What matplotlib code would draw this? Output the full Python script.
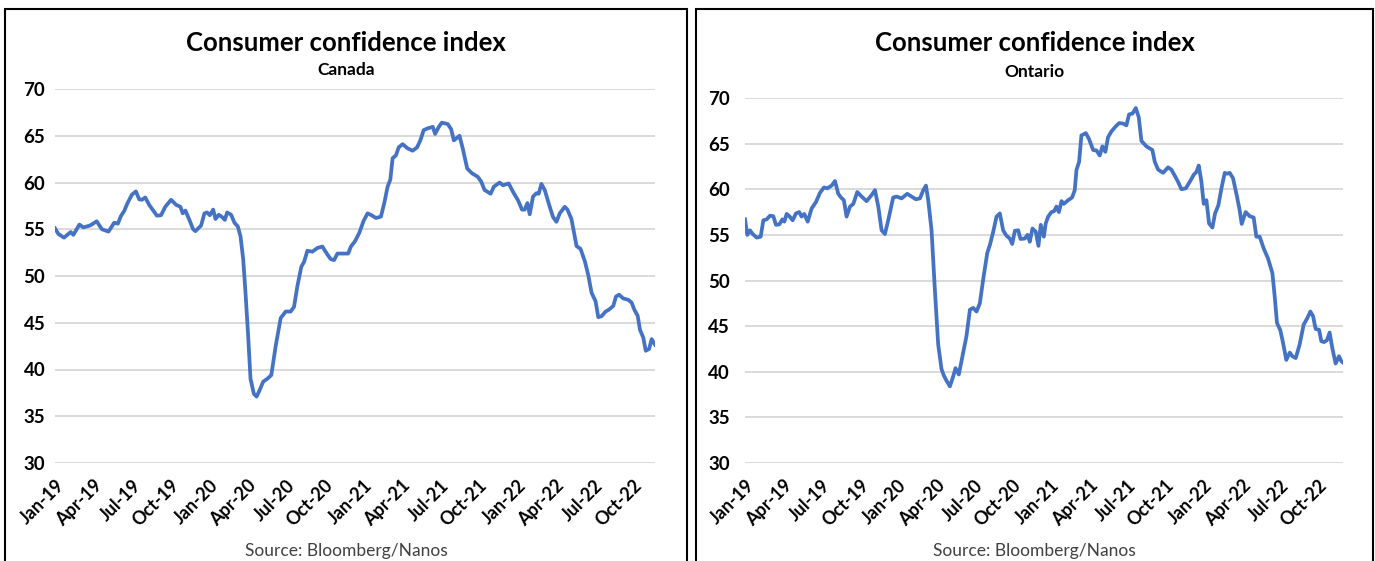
import matplotlib
matplotlib.use('Agg')
import matplotlib.pyplot as plt
from matplotlib.patches import Rectangle

plt.rcParams['font.family'] = ['Lato', 'DejaVu Sans']

# Weekly index readings, x = months since Jan 2019
canada_month = [
    0, 0.26, 0.70, 1.22, 1.43, 1.90, 2.21, 2.73, 3.25, 3.65,
    4.17, 4.61, 4.90, 5.13, 5.39, 5.65, 5.99, 6.30, 6.56, 6.77,
    7.03, 7.34, 7.94, 8.26, 8.59, 9.04, 9.45, 9.77, 9.95, 10.16,
    10.47, 10.76, 10.94, 11.38, 11.64, 11.85, 12.06, 12.32, 12.5, 12.76,
    13.02, 13.23, 13.41, 13.72, 13.98, 14.24, 14.45, 14.66, 14.84, 15.03,
    15.23, 15.49, 15.70, 15.88, 16.22, 16.53, 16.85, 17.19, 17.58, 17.97,
    18.36, 18.62, 18.88, 19.19, 19.4, 19.66, 20.05, 20.44, 20.83, 21.17,
    21.48, 21.74, 22.0, 22.39, 22.84, 23.05, 23.36, 23.7, 24.04, 24.35,
    24.66, 25.0, 25.39, 25.65, 25.91, 26.12, 26.3, 26.56, 26.77, 27.08,
    27.47, 27.86, 28.2, 28.46, 28.72, 29.04, 29.43, 29.61, 29.9, 30.13,
    30.6, 30.86, 31.07, 31.51, 31.77, 32.11, 32.47, 32.94, 33.2, 33.46,
    33.93, 34.19, 34.63, 34.9, 35.34, 35.68, 36.07, 36.38, 36.59, 36.8,
    36.98, 37.24, 37.5, 37.68, 37.89, 38.15, 38.54, 38.8, 39.06, 39.32,
    39.71, 39.92, 40.23, 40.63, 40.94, 41.28, 41.54, 41.8, 42.11, 42.32,
    42.58, 42.89, 43.15, 43.49, 43.7, 43.93, 44.27, 44.66, 44.92, 45.13,
    45.39, 45.57, 45.83, 46.02, 46.28, 46.48, 46.74,
]
canada_value = [
    55.1, 54.5, 54.1, 54.7, 54.4, 55.5, 55.2, 55.4, 55.85, 55.0,
    54.75, 55.7, 55.6, 56.4, 56.95, 57.8, 58.7, 59.05, 58.2, 58.15,
    58.4, 57.6, 56.45, 56.5, 57.4, 58.15, 57.6, 57.4, 56.7, 57.0,
    56.0, 55.0, 54.8, 55.4, 56.7, 56.8, 56.5, 57.1, 56.1, 56.55,
    56.3, 56.0, 56.8, 56.55, 55.7, 55.3, 54.25, 51.8, 48.2, 44.0,
    39.0, 37.4, 37.1, 37.6, 38.7, 39.0, 39.4, 42.5, 45.5, 46.2,
    46.2, 46.7, 48.9, 51.0, 51.5, 52.7, 52.6, 53.0, 53.15, 52.4,
    51.8, 51.7, 52.4, 52.4, 52.4, 53.15, 53.7, 54.6, 55.9, 56.7,
    56.5, 56.2, 56.35, 57.8, 59.55, 60.3, 62.6, 62.9, 63.75, 64.1,
    63.65, 63.4, 63.75, 64.5, 65.6, 65.8, 65.95, 65.2, 65.95, 66.4,
    66.25, 65.7, 64.5, 65.0, 63.6, 61.5, 61.0, 60.6, 60.1, 59.2,
    58.8, 59.55, 60.0, 59.7, 59.9, 59.0, 58.1, 57.1, 57.1, 57.8,
    56.6, 58.5, 58.85, 58.8, 59.85, 59.2, 57.4, 56.3, 55.8, 56.7,
    57.4, 57.1, 56.1, 53.2, 52.9, 51.55, 50.1, 48.2, 47.3, 45.6,
    45.7, 46.2, 46.4, 46.8, 47.8, 48.0, 47.6, 47.45, 47.15, 46.4,
    45.75, 44.25, 43.4, 42.0, 42.2, 43.25, 42.65,
]

ontario_month = [
    0, 0.18, 0.39, 0.6, 0.92, 1.23, 1.44, 1.7, 1.96, 2.22,
    2.43, 2.69, 2.93, 3.09, 3.27, 3.48, 3.74, 4.0, 4.26, 4.44,
    4.65, 4.92, 5.23, 5.57, 5.88, 6.2, 6.46, 6.8, 7.06, 7.32,
    7.53, 7.76, 7.97, 8.24, 8.5, 8.81, 9.15, 9.54, 9.93, 10.2,
    10.46, 10.72, 10.98, 11.24, 11.63, 11.9, 12.29, 12.73, 13.07, 13.41,
    13.73, 13.99, 14.2, 14.38, 14.64, 14.9, 15.16, 15.42, 15.6, 15.82,
    16.08, 16.34, 16.52, 16.78, 17.12, 17.38, 17.65, 17.91, 18.17, 18.43,
    18.69, 19.01, 19.22, 19.48, 19.74, 20.0, 20.26, 20.52, 20.78, 20.97,
    21.18, 21.44, 21.62, 21.96, 22.17, 22.35, 22.56, 22.82, 23.03, 23.21,
    23.45, 23.6, 23.79, 24.05, 24.26, 24.44, 24.63, 24.84, 25.02, 25.36,
    25.67, 25.88, 26.01, 26.22, 26.4, 26.75, 27.0, 27.32, 27.58, 27.84,
    28.05, 28.28, 28.49, 28.76, 29.1, 29.36, 29.67, 29.93, 30.14, 30.41,
    30.67, 30.9, 31.11, 31.5, 31.97, 32.16, 32.42, 32.81, 33.2, 33.46,
    33.8, 33.99, 34.25, 34.59, 34.9, 35.22, 35.43, 35.61, 35.82, 36.0,
    36.21, 36.42, 36.68, 36.89, 37.15, 37.39, 37.65, 37.83, 38.04, 38.3,
    38.61, 38.82, 38.98, 39.29, 39.61, 39.92, 40.13, 40.39, 40.71, 41.05,
    41.39, 41.57, 41.75, 42.01, 42.22, 42.48, 42.75, 42.96, 43.22, 43.53,
    43.84, 44.1, 44.37, 44.58, 44.78, 45.05, 45.23, 45.44, 45.67, 45.88,
    46.09, 46.35, 46.61, 46.8, 46.93,
]
ontario_value = [
    56.7, 55.0, 55.5, 55.1, 54.7, 54.8, 56.6, 56.7, 57.1, 57.05,
    56.1, 56.15, 56.7, 56.45, 57.3, 57.05, 56.6, 57.35, 57.5, 57.0,
    57.3, 56.45, 57.9, 58.6, 59.6, 60.2, 60.1, 60.4, 60.9, 59.5,
    59.1, 58.8, 57.0, 58.1, 58.4, 59.7, 59.2, 58.7, 59.35, 59.9,
    58.1, 55.5, 55.1, 56.6, 59.1, 59.2, 59.0, 59.5, 59.2, 58.9,
    59.0, 59.9, 60.4, 58.8, 55.5, 49.0, 43.0, 40.3, 39.6, 39.0,
    38.4, 39.5, 40.4, 39.7, 42.1, 43.9, 46.8, 47.0, 46.6, 47.5,
    50.1, 53.0, 53.9, 55.35, 57.0, 57.35, 55.5, 54.9, 54.6, 54.0,
    55.45, 55.5, 54.55, 54.6, 55.0, 54.25, 55.7, 55.35, 53.8, 56.1,
    54.8, 56.25, 57.0, 57.5, 57.6, 58.1, 57.5, 58.7, 58.4, 58.8,
    59.1, 59.9, 62.1, 63.0, 65.9, 66.15, 65.5, 64.3, 64.25, 63.7,
    64.7, 64.1, 65.7, 66.35, 66.9, 67.25, 67.2, 67.0, 68.2, 68.3,
    68.9, 67.9, 65.3, 64.7, 64.3, 63.0, 62.15, 61.8, 62.4, 62.15,
    61.3, 60.8, 60.0, 60.1, 60.8, 61.6, 61.9, 62.6, 60.8, 58.4,
    58.8, 56.25, 55.8, 57.35, 58.25, 60.1, 61.8, 61.7, 61.8, 61.2,
    59.2, 57.7, 56.2, 57.5, 57.05, 56.9, 54.8, 54.8, 53.5, 52.4,
    50.8, 48.25, 45.35, 44.55, 43.2, 41.3, 42.1, 41.7, 41.5, 43.0,
    45.15, 45.8, 46.6, 46.1, 44.7, 44.6, 43.35, 43.25, 43.45, 44.3,
    42.6, 40.9, 41.7, 41.15, 41.0,
]

tick_months = list(range(0, 46, 3))
tick_labels = ['Jan-19', 'Apr-19', 'Jul-19', 'Oct-19',
               'Jan-20', 'Apr-20', 'Jul-20', 'Oct-20',
               'Jan-21', 'Apr-21', 'Jul-21', 'Oct-21',
               'Jan-22', 'Apr-22', 'Jul-22', 'Oct-22']
y_ticks = [30, 35, 40, 45, 50, 55, 60, 65, 70]

W, H = 1375, 561
fig = plt.figure(figsize=(W / 100, H / 100), dpi=100)
fig.set_facecolor('white')


def panel(box, frame, months, values, region, title_y, sub_y, ypad):
    # box / frame given in pixels: (left, top, right, bottom)
    l, t, r, b = box
    ax = fig.add_axes([l / W, 1 - b / H, (r - l) / W, (b - t) / H])
    ax.plot(months, values, color='#4472C4', lw=2.7, solid_joinstyle='round')
    ax.set_xlim(0, months[-1])
    ax.set_ylim(30, 70)
    ax.set_yticks(y_ticks)
    ax.set_xticks(tick_months)
    ax.set_xticklabels(tick_labels, rotation=45, ha='right',
                       rotation_mode='anchor', fontsize=13, fontweight='bold')
    for lab in ax.get_yticklabels():
        lab.set_fontsize(13.5)
        lab.set_fontweight('bold')
    ax.tick_params(length=0, pad=ypad, axis='y')
    ax.tick_params(length=0, pad=10, axis='x')
    ax.yaxis.grid(True, color='#d9d9d9', lw=1.4)
    ax.set_axisbelow(True)
    for s in ax.spines.values():
        s.set_visible(False)

    fl, ft, fr = frame
    cx = (fl + fr) / 2 / W
    fig.add_artist(Rectangle((fl / W, -0.1), (fr - fl) / W, 1.1 - ft / H,
                             transform=fig.transFigure, fill=False,
                             ec='black', lw=1.5))
    fig.text(cx, 1 - title_y / H, 'Consumer confidence index', ha='center',
             va='center', fontsize=18.5, fontweight='bold')
    fig.text(cx, 1 - sub_y / H, region, ha='center', va='center',
             fontsize=12.5, fontweight='bold')
    fig.text(cx, 1 - 551 / H, 'Source: Bloomberg/Nanos', ha='center',
             va='center', fontsize=12.5, color='#404040')
    return ax


panel((55, 89, 655, 463), (5, 9, 687), canada_month, canada_value,
      'Canada', 43, 70, 7)
panel((745, 98, 1343, 463), (696, 9, 1373), ontario_month, ontario_value,
      'Ontario', 43, 72, 11)

fig.savefig('out.png', dpi=100)
